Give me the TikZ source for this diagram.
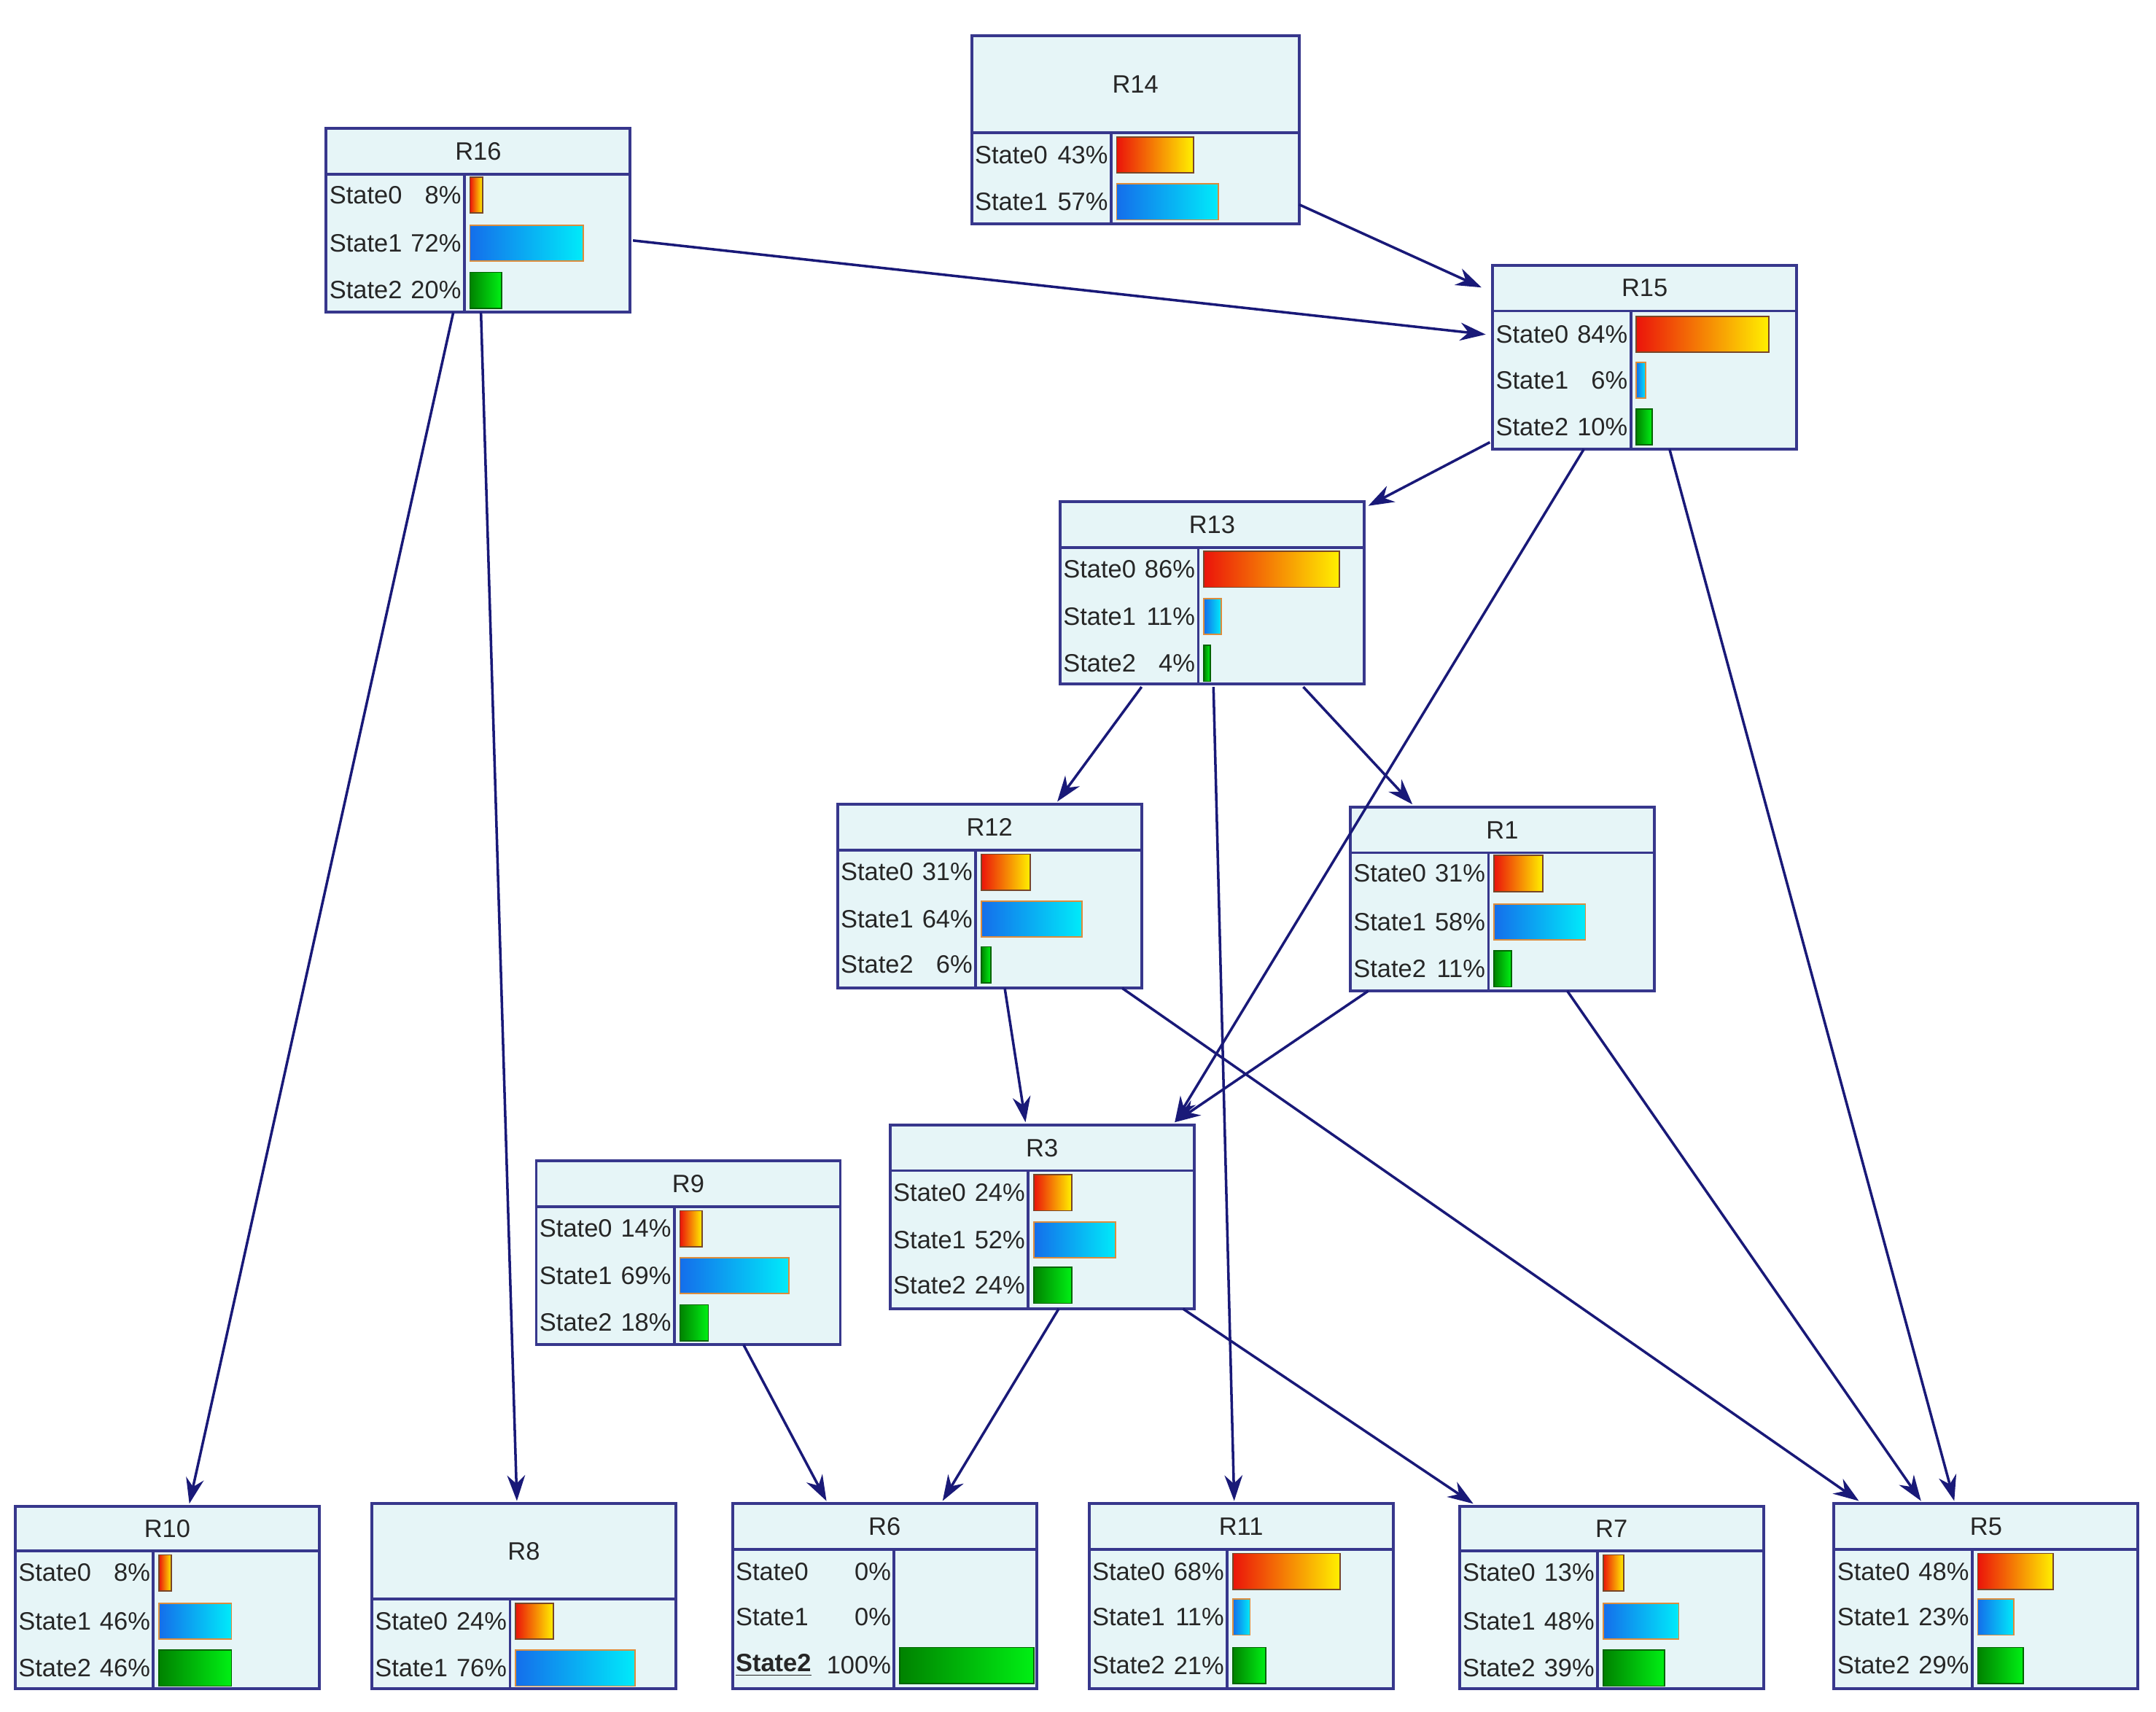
\documentclass[tikz,border=0pt]{standalone}
\usepackage{fontspec}
\setmainfont{Liberation Sans}
\usetikzlibrary{calc,arrows.meta}
\definecolor{boxfill}{RGB}{230,245,247}
\definecolor{boxline}{RGB}{55,55,140}
\definecolor{edge}{RGB}{25,25,120}
\tikzset{
 box/.style={draw=boxline,fill=boxfill,line width=1.1pt,inner sep=0pt,outer sep=0pt},
 bd/.style={draw=boxline,line width=1.1pt},
 txt/.style={font=\fontsize{9.8}{10}\selectfont,text=black!85,inner sep=0pt},
 bar0/.style={left color={rgb,255:red,235;green,20;blue,10},right color={rgb,255:red,255;green,240;blue,0},draw={rgb,255:red,120;green,70;blue,40},line width=0.5pt},
 bar1/.style={left color={rgb,255:red,20;green,110;blue,235},right color={rgb,255:red,0;green,235;blue,250},draw={rgb,255:red,220;green,140;blue,60},line width=0.5pt},
 bar2/.style={left color={rgb,255:red,0;green,130;blue,0},right color={rgb,255:red,0;green,240;blue,20},draw={rgb,255:red,0;green,100;blue,0},line width=0.5pt},
 ed/.style={draw=edge,line width=1pt,-{Stealth[length=10pt,width=7pt]}}
}
% name x1 y1 x2 y2 header div title
\newcommand\BN[8]{%
 \node[box,anchor=north west,minimum width={(#4-#2)*0.018955cm},minimum height={(#5-#3)*0.018955cm}] (#1) at (#2,#3) {};
 \draw[bd] (#2,#6) -- (#4,#6);
 \draw[bd] (#7,#6) -- (#7,#5);
 \node[txt] (#1t) at ({(#2+#4)/2},{(#3+#6)/2}) {#8};}
% name x1 div y label pct value type full
\newcommand\ST[9]{%
 \node[txt,anchor=west] (#1l#4) at (#2+2,#4) {#5};
 \node[txt,anchor=east] (#1p#4) at (#3-2,#4) {#6};
 \ifnum#7>0 \draw[bar#8] (#3+4,#4-13) rectangle ({#3+4+#7*#9/100},#4+13);\fi}
\newcommand\E[6]{\draw[ed] ($(#1.north west)+(#2,#3)$) -- ($(#4.north west)+(#5,#6)$);}
\begin{document}
\begin{tikzpicture}[x=0.018955cm,y=-0.018955cm]
\useasboundingbox[fill=white] (0,0) rectangle (1560,1238.7);
% R16
\BN{R16}{236}{93}{456}{226}{126}{336}{R16}
\ST{R16}{236}{336}{141}{State0}{8\%}{8}{0}{114}
\ST{R16}{236}{336}{176}{State1}{72\%}{72}{1}{114}
\ST{R16}{236}{336}{210}{State2}{20\%}{20}{2}{114}
% R14
\BN{R14}{703}{26}{940}{162}{96}{804}{R14}
\ST{R14}{703}{804}{112}{State0}{43\%}{43}{0}{129}
\ST{R14}{703}{804}{146}{State1}{57\%}{57}{1}{129}
% R15
\BN{R15}{1080}{192}{1300}{325}{225}{1180}{R15}
\ST{R15}{1080}{1180}{242}{State0}{84\%}{84}{0}{114}
\ST{R15}{1080}{1180}{275}{State1}{6\%}{6}{1}{114}
\ST{R15}{1080}{1180}{309}{State2}{10\%}{10}{2}{114}
% R13
\BN{R13}{767}{363}{987}{495}{396}{867}{R13}
\ST{R13}{767}{867}{412}{State0}{86\%}{86}{0}{114}
\ST{R13}{767}{867}{446}{State1}{11\%}{11}{1}{114}
\ST{R13}{767}{867}{480}{State2}{4\%}{4}{2}{114}
% R12
\BN{R12}{606}{582}{826}{715}{615}{706}{R12}
\ST{R12}{606}{706}{631}{State0}{31\%}{31}{0}{114}
\ST{R12}{606}{706}{665}{State1}{64\%}{64}{1}{114}
\ST{R12}{606}{706}{698}{State2}{6\%}{6}{2}{114}
% R1
\BN{R1}{977}{584}{1197}{717}{617}{1077}{R1}
\ST{R1}{977}{1077}{632}{State0}{31\%}{31}{0}{114}
\ST{R1}{977}{1077}{667}{State1}{58\%}{58}{1}{114}
\ST{R1}{977}{1077}{701}{State2}{11\%}{11}{2}{114}
% R3
\BN{R3}{644}{814}{864}{947}{847}{744}{R3}
\ST{R3}{644}{744}{863}{State0}{24\%}{24}{0}{114}
\ST{R3}{644}{744}{897}{State1}{52\%}{52}{1}{114}
\ST{R3}{644}{744}{930}{State2}{24\%}{24}{2}{114}
% R9
\BN{R9}{388}{840}{608}{973}{873}{488}{R9}
\ST{R9}{388}{488}{889}{State0}{14\%}{14}{0}{114}
\ST{R9}{388}{488}{923}{State1}{69\%}{69}{1}{114}
\ST{R9}{388}{488}{957}{State2}{18\%}{18}{2}{114}
% R10
\BN{R10}{11}{1090}{231}{1222}{1122}{111}{R10}
\ST{R10}{11}{111}{1138}{State0}{8\%}{8}{0}{114}
\ST{R10}{11}{111}{1173}{State1}{46\%}{46}{1}{114}
\ST{R10}{11}{111}{1207}{State2}{46\%}{46}{2}{114}
% R8
\BN{R8}{269}{1088}{489}{1222}{1157}{369}{R8}
\ST{R8}{269}{369}{1173}{State0}{24\%}{24}{0}{114}
\ST{R8}{269}{369}{1207}{State1}{76\%}{76}{1}{114}
% R6
\BN{R6}{530}{1088}{750}{1222}{1121}{647}{R6}
\ST{R6}{530}{647}{1137}{State0}{0\%}{0}{0}{97}
\ST{R6}{530}{647}{1170}{State1}{0\%}{0}{1}{97}
\ST{R6}{530}{647}{1205}{\underline{\textbf{State2}}}{100\%}{100}{2}{97}
% R11
\BN{R11}{788}{1088}{1008}{1222}{1121}{888}{R11}
\ST{R11}{788}{888}{1137}{State0}{68\%}{68}{0}{114}
\ST{R11}{788}{888}{1170}{State1}{11\%}{11}{1}{114}
\ST{R11}{788}{888}{1205}{State2}{21\%}{21}{2}{114}
% R7
\BN{R7}{1056}{1090}{1276}{1222}{1122}{1156}{R7}
\ST{R7}{1056}{1156}{1138}{State0}{13\%}{13}{0}{114}
\ST{R7}{1056}{1156}{1173}{State1}{48\%}{48}{1}{114}
\ST{R7}{1056}{1156}{1207}{State2}{39\%}{39}{2}{114}
% R5
\BN{R5}{1327}{1088}{1547}{1222}{1121}{1427}{R5}
\ST{R5}{1327}{1427}{1137}{State0}{48\%}{48}{0}{114}
\ST{R5}{1327}{1427}{1170}{State1}{23\%}{23}{1}{114}
\ST{R5}{1327}{1427}{1205}{State2}{29\%}{29}{2}{114}
% edges (offsets from north west, in px)
\E{R14}{237}{122}{R15}{-8}{16}
\E{R16}{222}{81}{R15}{-5}{50}
\E{R16}{92}{133}{R10}{126}{-2}
\E{R16}{112}{133}{R8}{105}{-2}
\E{R15}{-2}{128}{R13}{223}{3}
\E{R15}{66}{133}{R3}{206}{-2}
\E{R15}{128}{133}{R5}{87}{-2}
\E{R13}{59}{134}{R12}{159}{-2}
\E{R13}{176}{134}{R1}{45}{-2}
\E{R13}{111}{134}{R11}{105}{-2}
\E{R12}{121}{133}{R3}{98}{-2}
\E{R12}{206}{133}{R5}{18}{-2}
\E{R1}{13}{133}{R3}{206}{-2}
\E{R1}{157}{133}{R5}{63}{-2}
\E{R9}{150}{133}{R6}{68}{-2}
\E{R3}{122}{133}{R6}{152}{-2}
\E{R3}{212}{133}{R7}{10}{-2}
\end{tikzpicture}
\end{document}
